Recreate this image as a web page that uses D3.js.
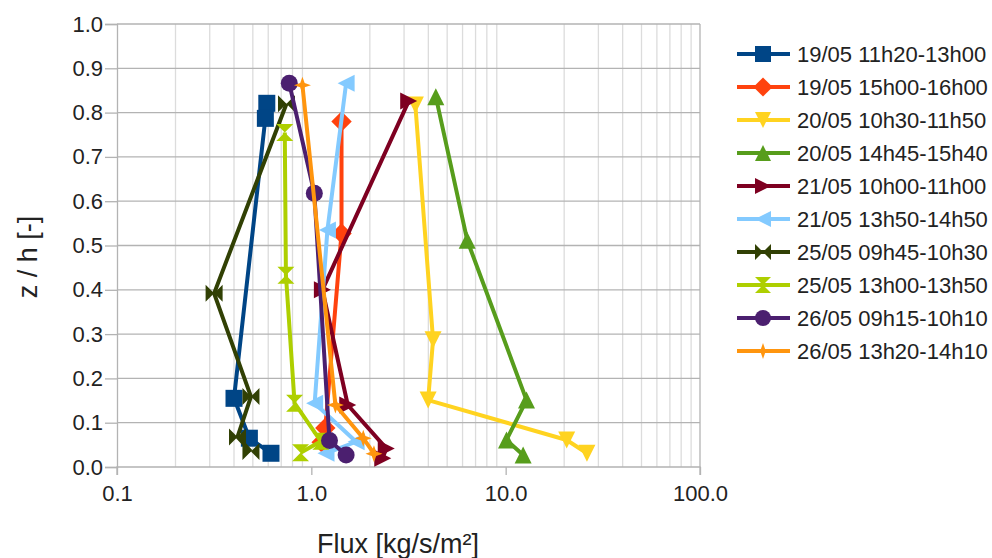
<!DOCTYPE html>
<html lang="en">
<head>
<meta charset="UTF-8">
<title>Flux profiles</title>
<script src="https://d3js.org/d3.v7.min.js"></script>
<style>
  body { margin: 0; background: #fff; }
  text { font-family: "Liberation Sans", Arial, sans-serif; fill: #222; }
</style>
</head>
<body>
<script>
// series labels (legend)
var labels = [
  "19/05 11h20-13h00", "19/05 15h00-16h00", "20/05 10h30-11h50", "20/05 14h45-15h40",
  "21/05 10h00-11h00", "21/05 13h50-14h50", "25/05 09h45-10h30", "25/05 13h00-13h50",
  "26/05 09h15-10h10", "26/05 13h20-14h10"
];
// flux [kg/s/m2] per series
var fluxValues = [
  [0.59, 0.58, 0.40, 0.48, 0.62],
  [1.43, 1.43, 1.18, 1.13],
  [3.43, 4.23, 3.99, 20.6, 26.2],
  [4.37, 6.34, 12.8, 10.1, 12.3],
  [3.17, 1.14, 1.54, 2.43, 2.33],
  [1.51, 1.21, 1.04, 1.70, 1.19],
  [0.745, 0.316, 0.489, 0.417, 0.489],
  [0.73, 0.74, 0.82, 1.12, 0.88],
  [0.77, 1.036, 1.24, 1.51],
  [0.90, 1.33, 1.85, 2.1]
];
// z / h per series
var zValues = [
  [0.821, 0.787, 0.155, 0.065, 0.031],
  [0.78, 0.527, 0.088, 0.056],
  [0.817, 0.287, 0.151, 0.061, 0.031],
  [0.836, 0.512, 0.151, 0.061, 0.027],
  [0.826, 0.40, 0.14, 0.042, 0.02],
  [0.866, 0.535, 0.144, 0.057, 0.031],
  [0.82, 0.392, 0.159, 0.068, 0.035],
  [0.755, 0.433, 0.144, 0.058, 0.032],
  [0.866, 0.618, 0.06, 0.027],
  [0.862, 0.14, 0.065, 0.03]
];
var xTicks = [0.1, 1, 10, 100];
var yTicks = [0, 0.1, 0.2, 0.3, 0.4, 0.5, 0.6, 0.7, 0.8, 0.9, 1.0];

var colors = ["#004586", "#ff420e", "#ffd320", "#579d1c", "#7e0021",
              "#83caff", "#314004", "#aecf00", "#4b1f6f", "#ff950e"];
var shapes = ["square", "diamond", "down", "up", "right", "left", "bowtie", "hourglass", "circle", "star"];

var W = 992, H = 558;
var margin = {top: 24, left: 117, right: 292, bottom: 91};

var x = d3.scaleLog().domain([0.1, 100]).range([margin.left, W - margin.right]);
var y = d3.scaleLinear().domain([0, 1]).range([H - margin.bottom, margin.top]);

var svg = d3.select("body").append("svg")
    .attr("width", W).attr("height", H);

// minor vertical grid (2..9 of each decade)
var minor = [];
for (var d = 0.1; d < 100; d *= 10) {
  for (var k = 2; k <= 9; k++) minor.push(+(d * k).toPrecision(3));
}
svg.append("g").selectAll("line").data(minor).join("line")
    .attr("x1", function(v) { return x(v); }).attr("x2", function(v) { return x(v); })
    .attr("y1", y(0)).attr("y2", y(1))
    .attr("stroke", "#dcdcdc").attr("stroke-width", 1.3);

// horizontal grid
svg.append("g").selectAll("line").data(yTicks.slice(1)).join("line")
    .attr("x1", x(0.1)).attr("x2", x(100))
    .attr("y1", function(v) { return y(v); }).attr("y2", function(v) { return y(v); })
    .attr("stroke", "#b3b3b3").attr("stroke-width", 1.3);

// right border line
svg.append("line")
    .attr("x1", x(100)).attr("x2", x(100)).attr("y1", y(0)).attr("y2", y(1))
    .attr("stroke", "#b3b3b3").attr("stroke-width", 1.3);

// axes
var xAxis = svg.append("g")
    .attr("transform", "translate(0," + y(0) + ")")
    .call(d3.axisBottom(x).tickValues(xTicks).tickFormat(d3.format(".1f")).tickSize(8).tickPadding(10));
var yAxis = svg.append("g")
    .attr("transform", "translate(" + x(0.1) + ",0)")
    .call(d3.axisLeft(y).tickValues(yTicks).tickFormat(d3.format(".1f")).tickSize(12).tickPadding(2));

[xAxis, yAxis].forEach(function(a) {
  a.select(".domain").attr("stroke", "#b3b3b3").attr("stroke-width", 1.3);
  a.selectAll(".tick line").attr("stroke", "#b3b3b3").attr("stroke-width", 1.3);
  a.selectAll("text").style("font-size", "22px").attr("fill", "#222")
    .style("font-family", "'Liberation Sans', Arial, sans-serif");
});
xAxis.select(".domain").attr("d", "M" + x(0.1) + ",8V0H" + x(100) + "V8");

// marker shapes
function markerPath(type, s) {
  var h = s / 2;
  switch (type) {
    case "square": return "M" + (-h) + "," + (-h) + "h" + s + "v" + s + "h" + (-s) + "Z";
    case "diamond": h = h * 1.2; return "M0," + (-h) + "L" + h + ",0L0," + h + "L" + (-h) + ",0Z";
    case "down": return "M" + (-h) + "," + (-h) + "L" + h + "," + (-h) + "L0," + h + "Z";
    case "up": return "M" + (-h) + "," + h + "L" + h + "," + h + "L0," + (-h) + "Z";
    case "right": return "M" + (-h) + "," + (-h) + "L" + (-h) + "," + h + "L" + h + ",0Z";
    case "left": return "M" + h + "," + (-h) + "L" + h + "," + h + "L" + (-h) + ",0Z";
    case "bowtie": return "M" + (-h) + "," + (-h) + "L0,0L" + (-h) + "," + h + "Z" +
                          "M" + h + "," + (-h) + "L0,0L" + h + "," + h + "Z";
    case "hourglass": return "M" + (-h) + "," + (-h) + "L" + h + "," + (-h) + "L0,0Z" +
                             "M" + (-h) + "," + h + "L" + h + "," + h + "L0,0Z";
    case "circle": return d3.symbol().type(d3.symbolCircle).size(Math.PI * h * h)();
    case "star":
      var q = s * 0.13;
      return "M0," + (-h) + "L" + q + "," + (-q) + "L" + h + ",0L" + q + "," + q +
             "L0," + h + "L" + (-q) + "," + q + "L" + (-h) + ",0L" + (-q) + "," + (-q) + "Z";
  }
}

var line = d3.line()
    .x(function(p) { return x(p[0]); })
    .y(function(p) { return y(p[1]); });

var series = labels.map(function(name, i) {
  return {
    name: name,
    points: fluxValues[i].map(function(f, j) { return [f, zValues[i][j]]; })
  };
});

var plot = svg.append("g");
series.forEach(function(s, i) {
  plot.append("path")
      .attr("d", line(s.points))
      .attr("fill", "none")
      .attr("stroke", colors[i])
      .attr("stroke-width", 4)
      .attr("stroke-linejoin", "round");
  plot.selectAll(null).data(s.points).join("path")
      .attr("transform", function(p) { return "translate(" + x(p[0]) + "," + y(p[1]) + ")"; })
      .attr("d", markerPath(shapes[i], 17))
      .attr("fill", colors[i]);
});

// axis titles
svg.append("text")
    .attr("x", 398).attr("y", 553)
    .attr("text-anchor", "middle")
    .style("font-size", "27px")
    .text("Flux [kg/s/m²]");
svg.append("text")
    .attr("transform", "translate(37,257) rotate(-90)")
    .attr("text-anchor", "middle")
    .style("font-size", "27px")
    .text("z / h [-]");

// legend
var legend = svg.append("g");
series.forEach(function(s, i) {
  var ly = 54 + i * 33;
  legend.append("line")
      .attr("x1", 737).attr("x2", 790).attr("y1", ly).attr("y2", ly)
      .attr("stroke", colors[i]).attr("stroke-width", 4);
  legend.append("path")
      .attr("transform", "translate(763," + ly + ")")
      .attr("d", markerPath(shapes[i], 16))
      .attr("fill", colors[i]);
  legend.append("text")
      .attr("x", 797).attr("y", ly)
      .attr("dy", "0.36em")
      .style("font-size", "22px")
      .text(s.name);
});
</script>
</body>
</html>
